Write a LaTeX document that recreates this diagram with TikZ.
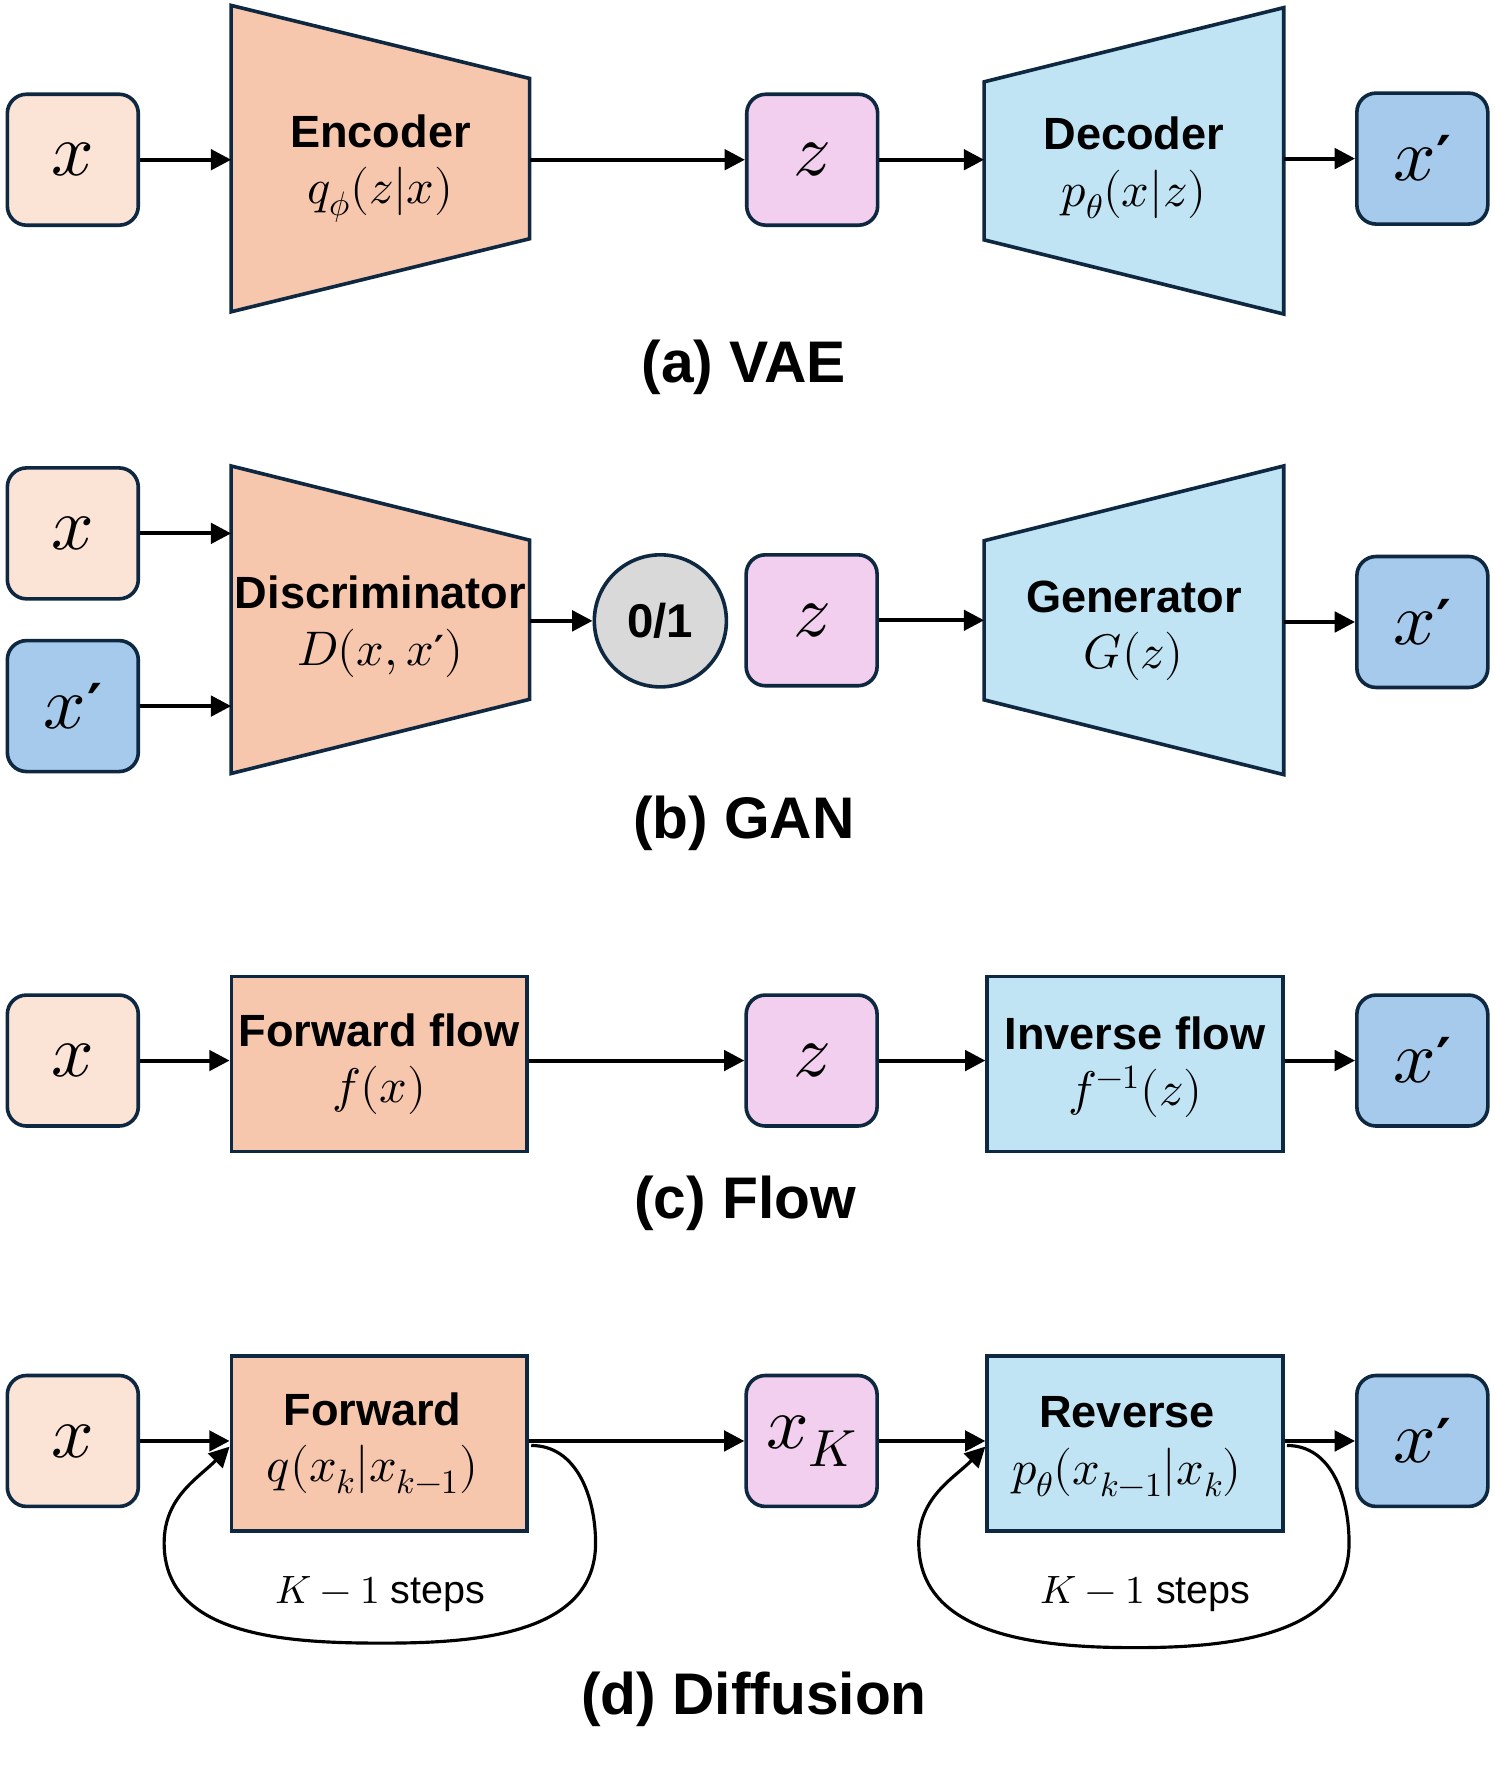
\documentclass[tikz,border=0pt]{standalone}
\usepackage{fontspec}
\usepackage{unicode-math}
\setmainfont{Liberation Sans}
\setmathfont{Latin Modern Math}
\newfontfamily\primefont{DejaVu Sans}
\usetikzlibrary{arrows.meta,calc,backgrounds}
\definecolor{bordc}{HTML}{0E2841}
\definecolor{xfill}{HTML}{FBE3D6}
\definecolor{encfill}{HTML}{F6C6AD}
\definecolor{zfill}{HTML}{F2CFEE}
\definecolor{decfill}{HTML}{C1E4F5}
\definecolor{xpfill}{HTML}{A6CAEC}
\definecolor{cfill}{HTML}{D9D9D9}
\newcommand{\mth}[1]{{\fontsize{43}{48}\selectfont$#1$}}
\newcommand{\xprime}{$x$\kern1pt\raisebox{0.05em}{\primefont\bfseries\fontsize{50}{50}\selectfont ′}}
\newcommand{\inprime}{\mbox{\kern0.5pt\raisebox{0.05em}{\primefont\bfseries\fontsize{33}{33}\selectfont ′}}}
\begin{document}
\begin{tikzpicture}[x=1pt,y=1pt,
  arr/.style={line width=3.5pt,-{Triangle[length=18pt,width=18pt]}},
  looparr/.style={line width=2.8pt,-{Triangle[length=18pt,width=18pt]}},
  rbox/.style={draw=bordc,line width=3.2pt,rounded corners=17pt,minimum width=116pt,minimum height=116pt,inner sep=0pt,font=\fontsize{66}{70}\selectfont},
  xbox/.style={rbox,fill=xfill},
  zbox/.style={rbox,fill=zfill},
  xpbox/.style={rbox,fill=xpfill},
  trapnode/.style={inner sep=0pt,minimum height=271pt},
  inner text/.style={inner sep=0pt,align=center,font=\fontsize{40}{50}\selectfont},
  trapline/.style={draw=bordc,line width=3.2pt},
  rectbox/.style={draw=bordc,line width=3.2pt,inner sep=0pt,minimum width=262pt,minimum height=155pt},
  caption/.style={inner sep=0pt,font=\fontsize{52}{60}\selectfont\bfseries},
  steplabel/.style={inner sep=0pt,font=\fontsize{35}{40}\selectfont}
]
\useasboundingbox (0,0) rectangle (1324,-1568);

% ---------------- (a) VAE ----------------
\node[xbox] (xa) at (64.5,-141.5) {$x$};
\node[trapnode,minimum width=264pt] (enc) at (337,-140.5) {};
\node[zbox] (za) at (719.5,-141.5) {$z$};
\node[trapnode,minimum width=265pt] (dec) at (1004.5,-142.5) {};
\node[xpbox] (xpa) at (1260,-140.5) {\xprime};
\begin{pgfonlayer}{background}
\draw[trapline,fill=encfill] (enc.north west) -- ($(enc.east)+(0,71)$) -- ($(enc.east)+(0,-71)$) -- (enc.south west) -- cycle;
\draw[trapline,fill=decfill] ($(dec.west)+(0,70)$) -- (dec.north east) -- (dec.south east) -- ($(dec.west)+(0,-70)$) -- cycle;
\end{pgfonlayer}
\node[inner text] (enct) at ($(enc)+(0,-9)$) {\textbf{Encoder}\\\mth{q_{\phi}(z|x)}};
\node[inner text] (dect) at ($(dec)+(0,-6)$) {\textbf{Decoder}\\\mth{p_{\theta}(x|z)}};
\draw[arr] (xa.east) -- (xa.east -| enc.west);
\draw[arr] (enc.east |- xa.east) -- (za.west);
\draw[arr] (za.east) -- (za.east -| dec.west);
\draw[arr] (dec.east |- xpa.west) -- (xpa.west);
\node[caption] (capa) at (659,-325) {(a) VAE};

% ---------------- (b) GAN ----------------
\node[xbox] (xb1) at (64.5,-472.5) {$x$};
\node[xpbox] (xb2) at (64.5,-625.5) {\xprime};
\node[trapnode,minimum width=264pt,minimum height=272pt] (disc) at (337,-549) {};
\node[circle,draw=bordc,line width=3.2pt,fill=cfill,minimum size=117pt,inner sep=0pt,font=\fontsize{42}{48}\selectfont\bfseries] (c01) at (585,-550) {0/1};
\node[zbox] (zb) at (719,-549.5) {$z$};
\node[trapnode,minimum width=265pt,minimum height=273pt] (gen) at (1004.5,-549.5) {};
\node[xpbox] (xpb) at (1260,-551) {\xprime};
\begin{pgfonlayer}{background}
\draw[trapline,fill=encfill] (disc.north west) -- ($(disc.east)+(0,70.5)$) -- ($(disc.east)+(0,-70.5)$) -- (disc.south west) -- cycle;
\draw[trapline,fill=decfill] ($(gen.west)+(0,70.5)$) -- (gen.north east) -- (gen.south east) -- ($(gen.west)+(0,-70.5)$) -- cycle;
\end{pgfonlayer}
\node[inner text] (disct) at ($(disc)+(0,-6)$) {\textbf{Discriminator}\\\mth{D(x,x\inprime)}};
\node[inner text] (gent) at ($(gen)+(0,-9.5)$) {\textbf{Generator}\\\mth{G(z)}};
\draw[arr] (xb1.east) -- (xb1.east -| disc.west);
\draw[arr] (xb2.east) -- (xb2.east -| disc.west);
\draw[arr] (disc.east |- c01.west) -- (c01.west);
\draw[arr] (zb.east) -- (zb.east -| gen.west);
\draw[arr] (gen.east |- xpb.west) -- (xpb.west);
\node[caption] (capb) at (659,-729) {(b) GAN};

% ---------------- (c) Flow ----------------
\node[xbox] (xc) at (64.5,-939.5) {$x$};
\node[rectbox,fill=encfill] (ff) at (336,-942.5) {};
\node[inner text] (fft) at (ff) {\textbf{Forward flow}\\\mth{f(x)}};
\node[zbox] (zc) at (719,-939.5) {$z$};
\node[rectbox,fill=decfill] (inv) at (1005.5,-942.5) {};
\node[inner text] (invt) at ($(inv)+(0,-3)$) {\textbf{Inverse flow}\\\mth{f^{-1}(z)}};
\node[xpbox] (xpc) at (1260,-939.5) {\xprime};
\draw[arr] (xc.east) -- (xc.east -| ff.west);
\draw[arr] (ff.east |- zc.west) -- (zc.west);
\draw[arr] (zc.east) -- (zc.east -| inv.west);
\draw[arr] (inv.east |- xpc.west) -- (xpc.west);
\node[caption] (capc) at (660,-1066) {(c) Flow};

% ---------------- (d) Diffusion ----------------
\node[xbox] (xd) at (64.5,-1276.5) {$x$};
\node[rectbox,fill=encfill] (fw) at (336,-1278.5) {};
\node[inner text] (fwt) at ($(fw)+(-6,0)$) {\textbf{Forward}\\\mth{q(x_k|x_{k-1})}};
\node[zbox] (xk) at (719,-1276.5) {$x_K$};
\node[rectbox,fill=decfill] (rv) at (1005.5,-1278.5) {};
\node[inner text] (rvt) at ($(rv)+(-7,-3)$) {\textbf{Reverse}\\\mth{p_{\theta}(x_{k-1}|x_k)}};
\node[xpbox] (xpd) at (1260,-1276.5) {\xprime};
\draw[arr] (xd.east) -- (xd.east -| fw.west);
\draw[arr] (fw.east |- xk.west) -- (xk.west);
\draw[arr] (xk.east) -- (xk.east -| rv.west);
\draw[arr] (rv.east |- xpd.west) -- (xpd.west);
\draw[looparr] ($(fw.east)+(2,-2)$) to[out=0,in=90] ($(fw.east)+(59,-88.5)$)
  to[out=-90,in=0] ($(fw.south)+(3,-98)$)
  to[out=180,in=-90] ($(fw.west)+(-58,-88.5)$)
  to[out=90,in=-135] ($(fw.west)+(0,-3)$);
\draw[looparr] ($(rv.east)+(2,-2)$) to[out=0,in=90] ($(rv.east)+(57,-88.5)$)
  to[out=-90,in=0] ($(rv.south)+(0,-102)$)
  to[out=180,in=-90] ($(rv.west)+(-59,-88.5)$)
  to[out=90,in=-135] ($(rv.west)+(0,-3)$);
\node[steplabel] (ka) at (337,-1412) {$K-1$ steps};
\node[steplabel] (kb) at (1015,-1412) {$K-1$ steps};
\node[caption] (capd) at (668,-1505) {(d) Diffusion};
\end{tikzpicture}
\end{document}
